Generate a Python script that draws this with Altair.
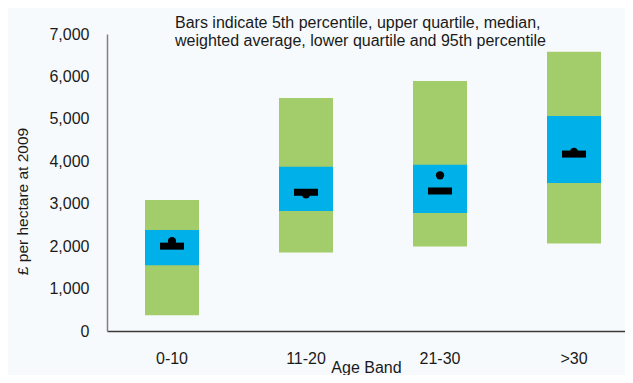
import altair as alt
import pandas as pd

bands = ["0-10", "11-20", "21-30", ">30"]
p5 = [370, 1850, 1990, 2060]
lower_q = [1550, 2830, 2780, 3490]
median = [2000, 3270, 3300, 4170]
weighted_avg = [2120, 3220, 3670, 4220]
upper_q = [2380, 3870, 3920, 5070]
p95 = [3090, 5490, 5890, 6580]

df = pd.DataFrame({
    "band": bands, "p5": p5, "lq": lower_q, "median": median,
    "wavg": weighted_avg, "uq": upper_q, "p95": p95,
})

FONT = "Liberation Sans"
TXT = "#1a1a1a"

x = alt.X("band:N", sort=bands,
          scale=alt.Scale(paddingInner=0.597, paddingOuter=0.2313, align=0.613),
          axis=alt.Axis(title="Age Band", labelAngle=0, tickSize=0, labelPadding=19,
                        labelFontSize=16, titleFontSize=16, titleFontWeight="normal",
                        labelColor=TXT, titleColor=TXT, labelFont=FONT, titleFont=FONT,
                        domainColor="#3a3a3a", domainWidth=1.5,
                        titleBaseline="top", titleY=28))
y_axis = alt.Axis(title="£ per hectare at 2009", values=list(range(0, 7001, 1000)),
                  format=",.0f", tickSize=0, labelPadding=18, labelFontSize=16,
                  titleFontSize=15.5, titleFontWeight="normal", labelColor=TXT,
                  titleColor=TXT, labelFont=FONT, titleFont=FONT, grid=False,
                  domainColor="#808080", domainWidth=1.5,
                  titleX=-85, titleY=167, titleAngle=270, titleAlign="center",
                  titleBaseline="middle")
yscale = alt.Scale(domain=[0, 7000], nice=False)

base = alt.Chart(df)
green = base.mark_bar(color="#A3CC6A").encode(
    x=x, y=alt.Y("p5:Q", scale=yscale, axis=y_axis), y2="p95:Q")
blue = base.mark_bar(color="#00B0E8").encode(x=x, y=alt.Y("lq:Q"), y2="uq:Q")
dot = base.mark_point(filled=True, shape="circle", size=68, color="#000000", opacity=1).encode(
    x=x, y=alt.Y("wavg:Q"))
tick = base.mark_tick(color="#000000", size=24, thickness=7, opacity=1).encode(
    x=x, y=alt.Y("median:Q"))

chart = alt.layer(green, blue, dot, tick).properties(
    width=518, height=297,
    title=alt.TitleParams(
        text=["Bars indicate 5th percentile, upper quartile, median,",
              "weighted average, lower quartile and 95th percentile"],
        anchor="start", frame="group", dx=68, fontSize=16, font=FONT, fontWeight="normal",
        color=TXT, lineHeight=18, baseline="top", offset=0, dy=23),
    autosize=alt.AutoSizeParams(type="none"),
    padding={"left": 99, "top": 26, "right": 0, "bottom": 44},
    background="#F7FAFC",
).configure_view(stroke=None)

chart.save("out.html", embed_options={"renderer": "svg", "actions": False})
